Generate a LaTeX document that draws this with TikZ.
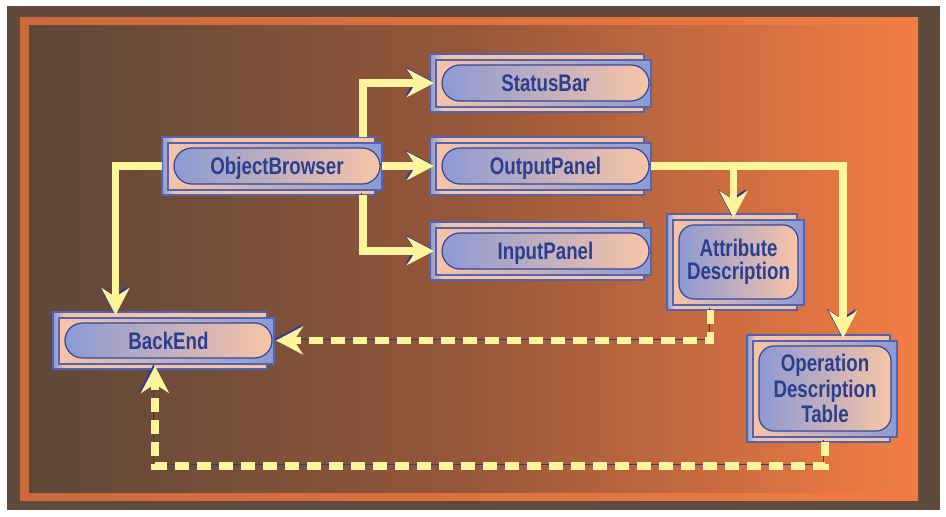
\documentclass[tikz,border=0pt]{standalone}
\usepackage{fontspec}
\newfontfamily\cardfont[FakeStretch=0.78]{Liberation Sans}
\usetikzlibrary{arrows.meta}

\definecolor{framedark}{HTML}{604A3B}
\definecolor{bandL}{HTML}{CA693E}
\definecolor{bandR}{HTML}{F07B43}
\definecolor{bgL}{HTML}{5D4838}
\definecolor{bgM}{HTML}{97573A}
\definecolor{bgR}{HTML}{F27D44}
\definecolor{cblue}{HTML}{8C9AD3}
\definecolor{csalmon}{HTML}{F8C4A6}
\definecolor{cedge}{HTML}{5064B4}
\definecolor{pedge}{HTML}{34479A}
\definecolor{ctext}{HTML}{2B3F8F}
\definecolor{cyellow}{HTML}{FFF59C}
\definecolor{cshadow}{HTML}{2E3A94}

% back card: blue on the left edge, salmon elsewhere
\pgfdeclarehorizontalshading{backshade}{100bp}{color(0bp)=(cblue); color(25bp)=(cblue); color(28bp)=(csalmon); color(100bp)=(csalmon)}

\tikzset{
  backcard/.style={shade, shading=backshade, draw=cedge, line width=1.1pt},
  frontcard/.style={left color=csalmon, right color=cblue, draw=cedge, line width=1.1pt},
  pill/.style={left color=cblue, right color=csalmon, draw=pedge, line width=1.2pt},
  cardlabel/.style={font=\cardfont\bfseries\fontsize{24}{24}\selectfont, text=ctext, align=center, inner sep=0pt},
  cardbox/.style={inner sep=0pt, outer sep=0pt},
  conn/.style={draw=cyellow, line width=7.5pt,
    -{Stealth[length=27pt,width=28pt,inset=9pt]},
    preaction={draw=cshadow, transform canvas={xshift=-1.6pt,yshift=1.6pt}}},
  dconn/.style={conn, dash pattern=on 14pt off 8pt},
}

% #1 name, #2 left, #3 top, #4 right, #5 bottom, #6 pill right inset,
% #7 pill corner radius, #8 text, #9 label options
\newcommand\card[9]{%
  \path[backcard] (#2,#3) rectangle ({#4-7},#5);
  \path[frontcard] ({#2+6},{#3+6}) rectangle (#4,{#5-5});
  \path[pill, rounded corners=#7] ({#2+12},{#3+11}) rectangle ({#4-#6},{#5-11});
  \node[cardbox, minimum width={#4-#2}, minimum height={#5-#3}] (#1) at ({(#2+#4)/2},{(#3+#5)/2}) {};
  \node[cardlabel, #9] (#1-text) at ({(#2+12+#4-#6)/2},{(#3+#5)/2}) {#8};
}

\begin{document}
\begin{tikzpicture}[x=1pt,y=-1pt]
\useasboundingbox (0,0) rectangle (946,517);

% frame and backdrop
\fill[white] (0,0) rectangle (946,517);
\fill[framedark] (7,6) rectangle (940,510);
\shade[left color=bandL, right color=bandR] (20,17) rectangle (918,500);
\shade[left color=bgL, right color=bgR, middle color=bgM] (29,25) rectangle (910,492);

% components
\card{ob}{162}{137}{382}{195}{2}{18pt}{ObjectBrowser}{anchor=base, yshift=-8.6pt}
\card{sb}{430}{54}{651}{112}{2}{18pt}{StatusBar}{anchor=base, yshift=-8.6pt}
\card{op}{430}{137}{651}{195}{2}{18pt}{OutputPanel}{anchor=base, yshift=-8.6pt}
\card{ip}{430}{222}{651}{280}{2}{18pt}{InputPanel}{anchor=base, yshift=-8.6pt}
\card{ad}{667}{214}{804}{310}{6}{15pt}{Attribute\\Description}{font=\cardfont\bfseries\fontsize{24}{23}\selectfont}
\card{odt}{747}{335}{897}{442}{6}{15pt}{Operation\\Description\\Table}{font=\cardfont\bfseries\fontsize{24}{25.5}\selectfont}
\card{be}{53}{312}{274}{369}{2}{17.5pt}{BackEnd}{anchor=base, yshift=-8.6pt}

% control flow
\draw[conn] ([xshift=91pt]ob.north) |- ([xshift=4pt]sb.west);
\draw[conn] (ob.east) -- ([xshift=4pt]op.west);
\draw[conn] ([xshift=91pt]ob.south) |- ([xshift=4pt]ip.west);
\draw[conn] (ob.west) -| ([xshift=-48pt,yshift=-3pt]be.north);
\draw[conn] (op.east) -| ([xshift=21pt,yshift=-3pt]odt.north);
\draw[conn] (op.east) -| ([xshift=-2pt,yshift=-4pt]ad.north);

% data returned to the back end
\draw[dconn] ([xshift=-25pt]ad.south) |- ([xshift=2pt]be.east);
\draw[dconn] ([xshift=3pt]odt.south) -- ++(0,24) -| ([xshift=-8.5pt,yshift=3pt]be.south);
\end{tikzpicture}
\end{document}
